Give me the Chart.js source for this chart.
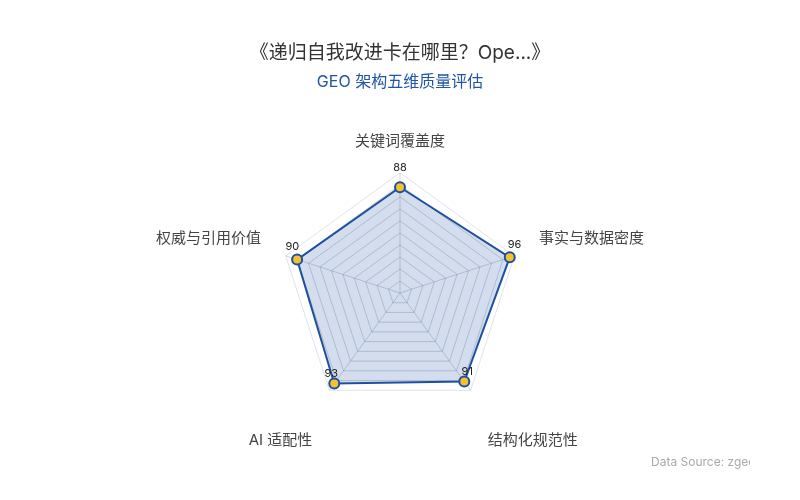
<!DOCTYPE html>
<html>
<head>
<meta charset="utf-8">
<title>GEO 架构五维质量评估</title>
<script src="https://cdn.jsdelivr.net/npm/chart.js@4.4.1/dist/chart.umd.min.js"></script>
<style>
    html, body { margin: 0; padding: 0; background: #ffffff; }
    #wrap { width: 800px; height: 500px; position: relative; }
</style>
</head>
<body>
<div id="wrap"><canvas id="radarChart"></canvas></div>
<script>
// chart data
const categories = ['关键词覆盖度', '事实与数据密度', '结构化规范性', 'AI 适配性', '权威与引用价值'];
const scores = [88, 96, 91, 93, 90];
const scaleMin = 0;
const scaleMax = 100;
const scaleStep = 10;

const titleText = '《递归自我改进卡在哪里？Ope...》';
const subtitleText = 'GEO 架构五维质量评估';
const sourceText = 'Data Source: zgeo';

const FONT = "Inter, 'Noto Sans CJK SC', 'Noto Sans', sans-serif";

// value labels next to each point - small custom plugin
const valueLabels = {
    id: 'valueLabels',
    afterDatasetsDraw(chart) {
        const { ctx } = chart;
        const scale = chart.scales.r;
        const meta = chart.getDatasetMeta(0);
        ctx.save();
        ctx.font = '11px ' + FONT;
        ctx.fillStyle = '#222222';
        ctx.textAlign = 'center';
        ctx.textBaseline = 'middle';
        meta.data.forEach((pt, i) => {
            const dx = pt.x - scale.xCenter;
            const dy = pt.y - scale.yCenter;
            const len = Math.sqrt(dx * dx + dy * dy) || 1;
            const ox = (dx / len) * 5;
            const oy = -10 - Math.max(0, -dy / len) * 10;
            ctx.fillText(String(scores[i]), pt.x + ox, pt.y + oy);
        });
        ctx.restore();
    }
};

// footer text, clipped at the right like the original
const sourceNote = {
    id: 'sourceNote',
    afterDraw(chart) {
        const { ctx } = chart;
        ctx.save();
        ctx.beginPath();
        ctx.rect(0, 440, 750, 60);
        ctx.clip();
        ctx.font = '12px ' + FONT;
        ctx.fillStyle = '#aaaaaa';
        ctx.textAlign = 'left';
        ctx.textBaseline = 'middle';
        ctx.fillText(sourceText, 651, 462);
        ctx.restore();
    }
};

const ctx = document.getElementById('radarChart');

new Chart(ctx, {
    type: 'radar',
    data: {
        labels: categories,
        datasets: [{
            label: subtitleText,
            data: scores,
            borderColor: '#1f4f9f',
            borderWidth: 2,
            backgroundColor: 'rgba(33, 86, 165, 0.2)',
            fill: true,
            tension: 0,
            pointRadius: 5,
            pointHoverRadius: 5,
            pointBorderWidth: 2,
            pointBackgroundColor: '#f2c230',
            pointBorderColor: '#1f4f9f'
        }]
    },
    options: {
        responsive: true,
        maintainAspectRatio: false,
        animation: false,
        layout: {
            padding: { top: 0, bottom: 48, left: 0, right: 0 }
        },
        plugins: {
            legend: { display: false },
            tooltip: { enabled: false },
            title: {
                display: true,
                text: titleText,
                color: '#333333',
                font: { family: FONT, size: 19, weight: 'normal' },
                padding: { top: 41.6, bottom: 3 }
            },
            subtitle: {
                display: true,
                text: subtitleText,
                color: '#2156a5',
                font: { family: FONT, size: 16, weight: 'normal' },
                padding: { top: 5, bottom: 38.4 }
            }
        },
        scales: {
            r: {
                min: scaleMin,
                max: scaleMax,
                ticks: { display: false, stepSize: scaleStep },
                grid: {
                    color: (c) => (c.tick && c.tick.value === scaleMax) ? '#dde4ee' : 'rgba(120, 135, 160, 0.35)',
                    lineWidth: 1
                },
                angleLines: { color: 'rgba(120, 135, 160, 0.35)' },
                pointLabels: {
                    color: '#444444',
                    font: { family: FONT, size: 15 },
                    padding: (c) => {
                        if (c.index === 2 || c.index === 3) return 29;
                        if (c.index === 0) return 22.8;
                        return 26;
                    },
                    // bottom labels sit a line lower
                    callback: (label, i) => (i === 2 || i === 3) ? ['', label] : label
                }
            }
        }
    },
    plugins: [valueLabels, sourceNote]
});
</script>
</body>
</html>
